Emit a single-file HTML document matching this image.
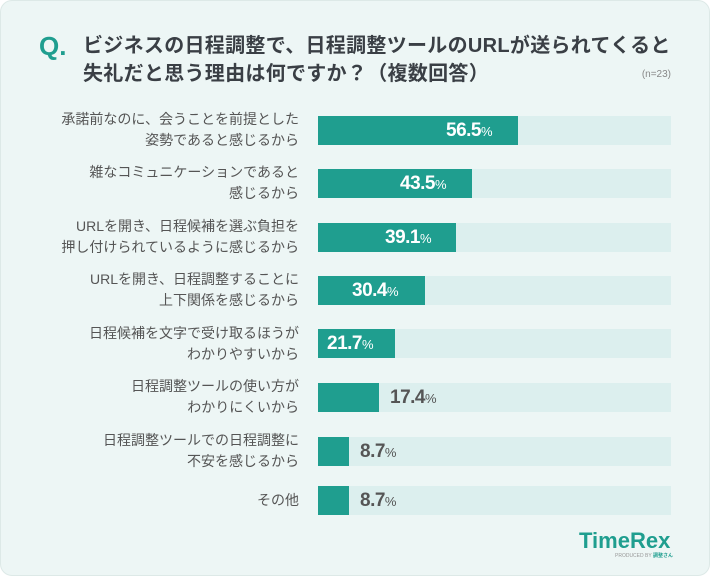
<!DOCTYPE html>
<html><head><meta charset="utf-8"><style>
body{margin:0;width:710px;height:576px;background:#fff;font-family:"Liberation Sans","Noto Sans CJK JP",sans-serif;overflow:hidden}
.card{position:absolute;left:0;top:0;width:708px;height:574px;background:#edf6f5;border-radius:12px;border:1px solid #dde9e7}
.q{position:absolute;left:38px;top:30px;font-size:26px;font-weight:bold;color:#1f9e8f}
.t{position:absolute;left:82px;top:31px;font-size:20px;font-weight:bold;color:#3a3f45;line-height:28px;letter-spacing:0.3px}
.n{position:absolute;right:38px;top:68px;font-size:10px;color:#888}
.lab{position:absolute;right:410px;width:300px;text-align:right;font-size:14px;color:#555;line-height:21px}
.tr{position:absolute;left:317px;width:353px;height:29px;background:#dcefee}
.b{position:absolute;left:0;top:0;height:29px;background:#1f9e8f}
.v{position:absolute;top:0;line-height:29px;font-size:19px;font-weight:bold;letter-spacing:-0.5px}
.v small{font-size:13px;font-weight:normal}
.logo{position:absolute;left:578px;top:527px;font-size:22px;font-weight:bold;color:#1f9e8f}
.pb{position:absolute;left:614px;top:551px;font-size:5px;color:#999}
</style></head><body><div class="card">
<div class="q">Q.</div>
<div class="t">ビジネスの日程調整で、日程調整ツールのURLが送られてくると<br>失礼だと思う理由は何ですか？（複数回答）</div>
<div class="n">(n=23)</div>

<div class="lab" style="top:108px">承諾前なのに、会うことを前提とした<br>姿勢であると感じるから</div>
<div class="tr" style="top:115px"><div class="b" style="width:200px"></div><div class="v" style="left:128px;color:#fff">56.5<small>%</small></div></div>

<div class="lab" style="top:161px">雑なコミュニケーションであると<br>感じるから</div>
<div class="tr" style="top:168px"><div class="b" style="width:154px"></div><div class="v" style="left:82px;color:#fff">43.5<small>%</small></div></div>

<div class="lab" style="top:215px">URLを開き、日程候補を選ぶ負担を<br>押し付けられているように感じるから</div>
<div class="tr" style="top:222px"><div class="b" style="width:138px"></div><div class="v" style="left:67px;color:#fff">39.1<small>%</small></div></div>

<div class="lab" style="top:268px">URLを開き、日程調整することに<br>上下関係を感じるから</div>
<div class="tr" style="top:275px"><div class="b" style="width:107px"></div><div class="v" style="left:34px;color:#fff">30.4<small>%</small></div></div>

<div class="lab" style="top:322px">日程候補を文字で受け取るほうが<br>わかりやすいから</div>
<div class="tr" style="top:328px"><div class="b" style="width:77px"></div><div class="v" style="left:9px;color:#fff">21.7<small>%</small></div></div>

<div class="lab" style="top:375px">日程調整ツールの使い方が<br>わかりにくいから</div>
<div class="tr" style="top:382px"><div class="b" style="width:61px"></div><div class="v" style="left:72px;color:#555">17.4<small>%</small></div></div>

<div class="lab" style="top:429px">日程調整ツールでの日程調整に<br>不安を感じるから</div>
<div class="tr" style="top:436px"><div class="b" style="width:31px"></div><div class="v" style="left:42px;color:#555">8.7<small>%</small></div></div>

<div class="lab" style="top:489px">その他</div>
<div class="tr" style="top:485px"><div class="b" style="width:31px"></div><div class="v" style="left:42px;color:#555">8.7<small>%</small></div></div>

<div class="logo">TimeRex</div>
<div class="pb">PRODUCED BY <b style="color:#1f9e8f">調整さん</b></div>
</div></body></html>
